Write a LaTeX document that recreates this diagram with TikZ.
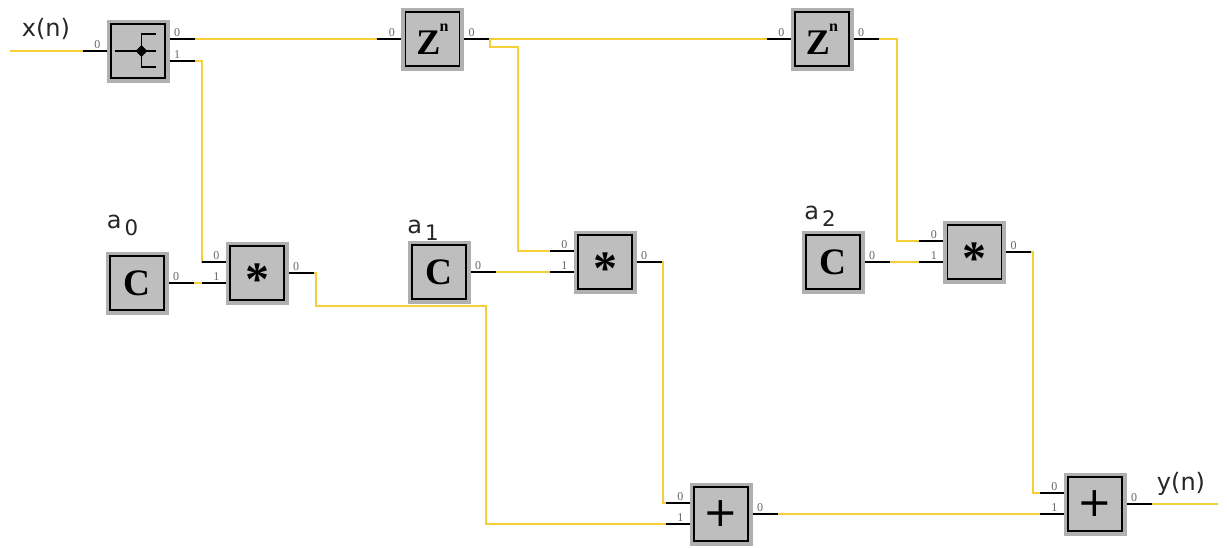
\documentclass[tikz,border=0pt]{standalone}
\usepackage{fontspec}
\setmainfont{Liberation Serif}
\newfontfamily\labfont{DejaVu Sans}
\usetikzlibrary{calc,shapes.geometric}
\definecolor{blockedge}{HTML}{B0B0B0}
\definecolor{blockgray}{HTML}{BEBEBE}
\definecolor{wireyellow}{HTML}{F4CF38}
\definecolor{portgray}{HTML}{666666}
\tikzset{
  block/.style={minimum size=47.25pt,inner sep=0pt,outer sep=0pt,fill=blockedge,
    font=\bfseries\fontsize{28}{28}\selectfont,
    path picture={\draw[black,fill=blockgray,line width=1.3pt]
      ([xshift=3.4pt,yshift=3.4pt]path picture bounding box.south west) rectangle
      ([xshift=-3.4pt,yshift=-3.4pt]path picture bounding box.north east);}},
  wire/.style={draw=wireyellow,line width=1.5pt,line join=miter},
  stub/.style={draw=black,line width=1.1pt},
  portlab/.style={font=\fontsize{9}{9}\selectfont,text=portgray,inner sep=0pt},
  sig/.style={font=\labfont\fontsize{18}{20}\selectfont,text=black!85,inner sep=0pt,anchor=base},
  icon/.style={draw=black,line width=1.1pt},
  dot/.style={diamond,fill=black,inner sep=0pt,minimum size=9pt}
}
% stubs on output and input ports: port coordinate, label
\newcommand{\outp}[2]{\draw[stub] (#1) -- ++(25,0) node[portlab,pos=0.3,anchor=south,yshift=1.2pt,name=lab-#1] {#2};}
\newcommand{\inp}[2]{\draw[stub] (#1) -- ++(-24,0) node[portlab,pos=0.38,anchor=south,yshift=1.2pt,name=lab-#1] {#2};}
\newcommand{\zsym}{\smash{\raisebox{-11.25pt}{\fontsize{27}{27}\selectfont Z}\hspace{-0.5pt}\raisebox{6pt}{\fontsize{12}{12}\selectfont n}}}
\newcommand{\starsym}{\smash{\raisebox{-17pt}{\fontsize{36}{36}\selectfont *}}}
\newcommand{\asub}[1]{a\hspace{2.2pt}\raisebox{-5.5pt}{\fontsize{16}{16}\selectfont #1}}
\begin{document}
\begin{tikzpicture}[x=0.75pt,y=-0.75pt]
\useasboundingbox (0,0) rectangle (1229,547);
% blocks
\node[block] (split) at (138,51) {};
\node[block] (z1) at (432.5,39) {\zsym};
\node[block] (z2) at (822,39) {\zsym};
\node[block] (c0) at (137,283) {C};
\node[block] (m0) at (257,273) {\starsym};
\node[block] (c1) at (439,272) {C};
\node[block] (m1) at (605,262) {\starsym};
\node[block] (c2) at (833,262) {C};
\node[block] (m2) at (974.5,252) {\starsym};
\node[block,font=\labfont\fontsize{31}{31}\selectfont] (a1) at (721,514) {+};
\node[block,font=\labfont\fontsize{31}{31}\selectfont] (a2) at (1095,504) {+};
% split icon
\coordinate (ic) at (split.center);
\draw[icon] ($(ic)+(-23,0)$) -- ($(ic)+(18,0)$);
\draw[icon] ($(ic)+(18,-17)$) -- ($(ic)+(3.5,-17)$) -- ($(ic)+(3.5,16)$) -- ($(ic)+(18,16)$);
\node[dot] (icdot) at ($(ic)+(3.5,0)$) {};
% free ends
\coordinate (xin) at (10,51);
\coordinate (yout) at (1218,504);
% ports
\coordinate (split-i) at (split.west);
\coordinate (split-o0) at ($(split.east)+(0,-12)$);
\coordinate (split-o1) at ($(split.east)+(0,10)$);
\coordinate (z1-i) at (z1.west);
\coordinate (z1-o) at (z1.east);
\coordinate (z2-i) at (z2.west);
\coordinate (z2-o) at (z2.east);
\coordinate (c0-o) at (c0.east);
\coordinate (c1-o) at (c1.east);
\coordinate (c2-o) at (c2.east);
\coordinate (m0-i0) at ($(m0.west)+(0,-11)$);
\coordinate (m0-i1) at ($(m0.west)+(0,10)$);
\coordinate (m0-o) at (m0.east);
\coordinate (m1-i0) at ($(m1.west)+(0,-11)$);
\coordinate (m1-i1) at ($(m1.west)+(0,10)$);
\coordinate (m1-o) at (m1.east);
\coordinate (m2-i0) at ($(m2.west)+(0,-11)$);
\coordinate (m2-i1) at ($(m2.west)+(0,10)$);
\coordinate (m2-o) at (m2.east);
\coordinate (a1-i0) at ($(a1.west)+(0,-11)$);
\coordinate (a1-i1) at ($(a1.west)+(0,10)$);
\coordinate (a1-o) at (a1.east);
\coordinate (a2-i0) at ($(a2.west)+(0,-11)$);
\coordinate (a2-i1) at ($(a2.west)+(0,10)$);
\coordinate (a2-o) at (a2.east);
% wires
\draw[wire] (xin) -- (split-i);
\draw[wire] (split-o0) -- (z1-i);
\draw[wire] (split-o1) -- ($(split-o1)+(32,0)$) |- (m0-i0);
\draw[wire] (c0-o) -- (m0-i1);
\draw[wire] (m0-o) -- ($(m0-o)+(27,0)$) |- ($(m0-o)+(197.5,33)$) |- (a1-i1);
\draw[wire] (z1-o) -- (z2-i);
\draw[wire] ($(z1-o)+(26,0)$) |- ($(z1-o)+(54,8)$) |- (m1-i0);
\draw[wire] (c1-o) -- (m1-i1);
\draw[wire] (m1-o) -- ($(m1-o)+(26.5,0)$) |- (a1-i0);
\draw[wire] (a1-o) -- (a2-i1);
\draw[wire] (z2-o) -- ($(z2-o)+(43.5,0)$) |- (m2-i0);
\draw[wire] (c2-o) -- (m2-i1);
\draw[wire] (m2-o) -- ($(m2-o)+(27,0)$) |- (a2-i0);
\draw[wire] (a2-o) -- (yout);
% stubs
\inp{split-i}{0}
\outp{split-o0}{0}
\outp{split-o1}{1}
\inp{z1-i}{0}
\outp{z1-o}{0}
\inp{z2-i}{0}
\outp{z2-o}{0}
\outp{c0-o}{0}
\outp{c1-o}{0}
\outp{c2-o}{0}
\inp{m0-i0}{0}
\inp{m0-i1}{1}
\outp{m0-o}{0}
\inp{m1-i0}{0}
\inp{m1-i1}{1}
\outp{m1-o}{0}
\inp{m2-i0}{0}
\inp{m2-i1}{1}
\outp{m2-o}{0}
\inp{a1-i0}{0}
\inp{a1-i1}{1}
\outp{a1-o}{0}
\inp{a2-i0}{0}
\inp{a2-i1}{1}
\outp{a2-o}{0}
% signal labels
\node[sig] (xlab) at (46,36) {x(n)};
\node[sig] (ylab) at (1181,490) {y(n)};
\node[sig] (a0lab) at (122.5,228) {\asub{0}};
\node[sig] (a1lab) at (423,233) {\asub{1}};
\node[sig] (a2lab) at (820,219) {\asub{2}};
\end{tikzpicture}
\end{document}
